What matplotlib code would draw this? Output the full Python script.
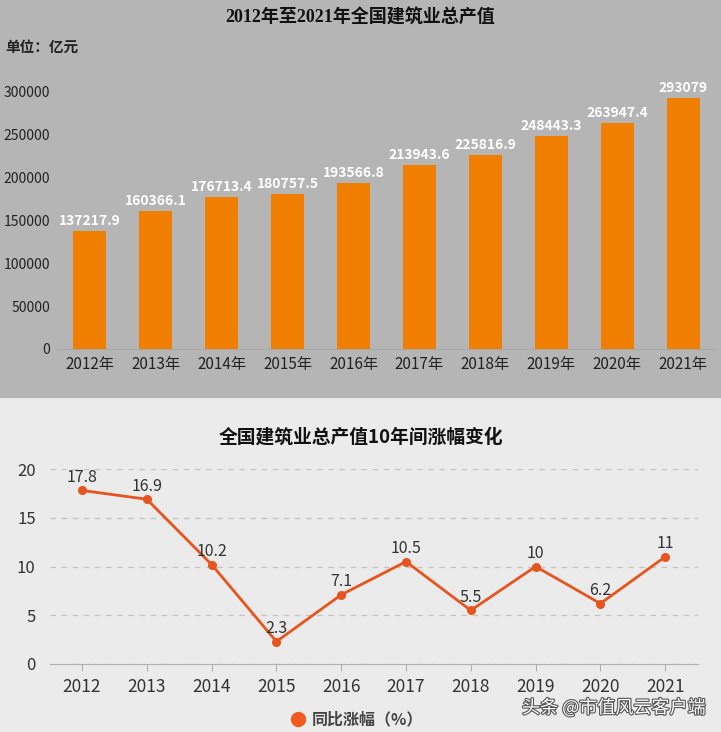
import matplotlib.pyplot as plt
import matplotlib.patheffects as pe
from matplotlib.patches import Rectangle

plt.rcParams["font.family"] = ["Noto Sans CJK SC", "DejaVu Sans"]

years = ["2012", "2013", "2014", "2015", "2016", "2017", "2018", "2019", "2020", "2021"]
output_values = [137217.9, 160366.1, 176713.4, 180757.5, 193566.8,
                 213943.6, 225816.9, 248443.3, 263947.4, 293079]
output_labels = ["137217.9", "160366.1", "176713.4", "180757.5", "193566.8",
                 "213943.6", "225816.9", "248443.3", "263947.4", "293079"]
growth = [17.8, 16.9, 10.2, 2.3, 7.1, 10.5, 5.5, 10, 6.2, 11]
growth_labels = ["17.8", "16.9", "10.2", "2.3", "7.1", "10.5", "5.5", "10", "6.2", "11"]
bar_yticks = [0, 50000, 100000, 150000, 200000, 250000, 300000]
line_yticks = [0, 5, 10, 15, 20]

W, H = 721, 732
fig = plt.figure(figsize=(W / 100, H / 100), dpi=100)
fig.patch.set_facecolor("#ebebeb")
fig.add_artist(Rectangle((0, 1 - 398 / H), 1, 398 / H, transform=fig.transFigure,
                         facecolor="#b5b5b5", edgecolor="none", zorder=-10))

# ---- top: bar chart ----
ax = fig.add_axes([57 / W, 1 - 349 / H, 659 / W, (349 - 83) / H])
ax.set_facecolor("none")
x = list(range(len(years)))
ax.bar(x, output_values, width=0.5, color="#f07e00", zorder=3)
for xi, v, lab in zip(x, output_values, output_labels):
    ax.text(xi, v + 3500, lab, ha="center", va="bottom", color="white",
            fontsize=10, fontweight="bold")
ax.set_xlim(-0.5, 9.5)
ax.set_ylim(0, 300000 * 310 / 300)
ax.set_yticks(bar_yticks)
ax.set_yticklabels([str(t) for t in bar_yticks], fontsize=10, color="#222222")
ax.set_xticks(x)
ax.set_xticklabels([y + "年" for y in years], fontsize=11, color="#222222")
for s in ["top", "right", "left"]:
    ax.spines[s].set_visible(False)
ax.spines["bottom"].set_color("#a8a8a8")
ax.tick_params(axis="both", length=0, pad=5)
fig.text(0.5, 1 - 18 / H, "2012年至2021年全国建筑业总产值", ha="center", va="center",
         fontsize=13, fontweight="bold", color="#111111",
         family=["Liberation Serif", "Noto Sans CJK SC"])
fig.text(5 / W, 1 - 47 / H, "单位：亿元", ha="left", va="center",
         fontsize=10.5, fontweight="bold", color="#222222")

# ---- bottom: line chart ----
ax2 = fig.add_axes([49.6 / W, 1 - 664 / H, 648 / W, 195 / H])
ax2.set_facecolor("none")
ax2.plot(x, growth, color="#e8541e", lw=2, marker="o", ms=5.5, zorder=3)
for xi, v, lab in zip(x, growth, growth_labels):
    ax2.text(xi, v + 0.45, lab, ha="center", va="bottom", color="#333333", fontsize=11.5)
ax2.set_xlim(-0.5, 9.5)
ax2.set_ylim(0, 20)
ax2.set_yticks(line_yticks)
ax2.set_yticklabels([str(t) for t in line_yticks], fontsize=12, color="#333333")
ax2.set_xticks(x)
ax2.set_xticklabels(years, fontsize=12.5, color="#333333")
ax2.grid(axis="y", color="#c4c4c4", ls=(0, (4, 4)), lw=1)
ax2.set_axisbelow(True)
for s in ["top", "right", "left"]:
    ax2.spines[s].set_visible(False)
ax2.spines["bottom"].set_color("#b0b0b0")
ax2.tick_params(axis="y", length=0, pad=10)
ax2.tick_params(axis="x", length=5, color="#b0b0b0", pad=5)
fig.text(0.5, 1 - 437 / H, "全国建筑业总产值10年间涨幅变化", ha="center", va="center",
         fontsize=13.5, fontweight="bold", color="#111111")

# legend
fig.lines.append(plt.Line2D([298 / W], [1 - 719 / H], transform=fig.transFigure,
                            marker="o", ms=10, color="#f05a1e", ls="none"))
fig.text(312 / W, 1 - 719 / H, "同比涨幅（%）", ha="left", va="center",
         fontsize=11.5, fontweight="bold", color="#444444")

fig.text(705 / W, 1 - 708 / H, "头条 @市值风云客户端", ha="right", va="center",
         fontsize=13, color="white",
         path_effects=[pe.withStroke(linewidth=1.6, foreground="#555555")])

fig.savefig("out.png", dpi=100, facecolor=fig.get_facecolor())
